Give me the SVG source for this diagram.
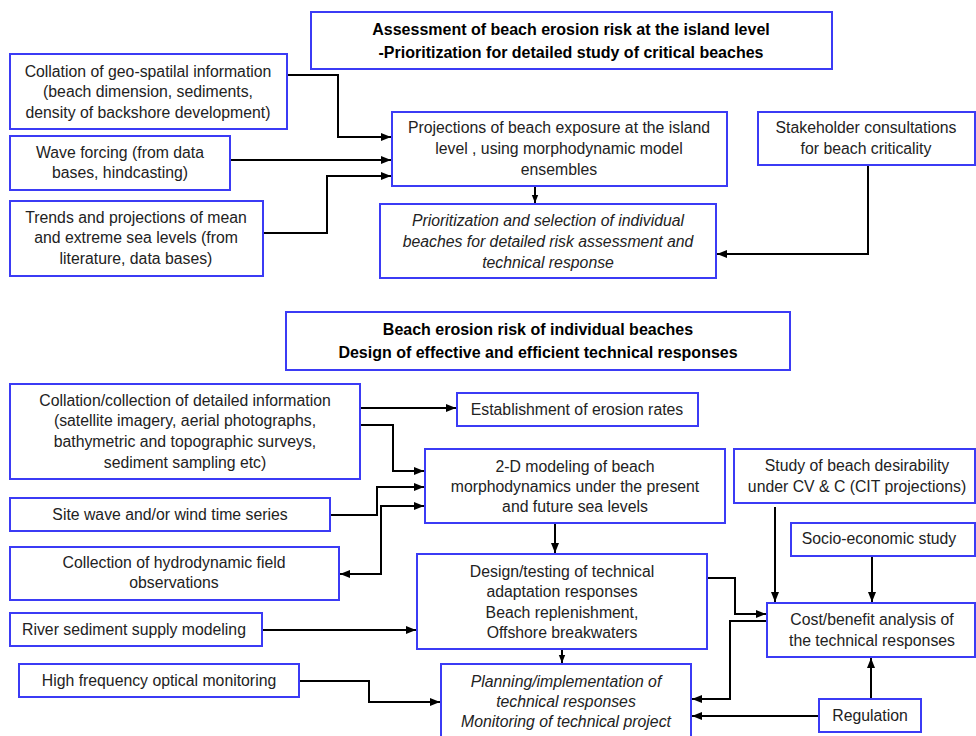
<svg xmlns="http://www.w3.org/2000/svg" width="976" height="736" viewBox="0 0 976 736">
<defs>
<style>
.box{fill:#fff;stroke:#3b3bf5;stroke-width:2}
.t{font-family:"Liberation Sans",Arial,sans-serif;font-size:15.8px;fill:#222;text-anchor:middle}
.b{font-weight:bold;fill:#000;font-size:16px}
.i{font-style:italic}
.c{fill:none;stroke:#000;stroke-width:2}
.a{marker-end:url(#ah)}
.s{marker-end:url(#sm)}
</style>
<marker id="ah" markerUnits="userSpaceOnUse" markerWidth="10" markerHeight="10" viewBox="0 0 10 10" refX="10" refY="5" orient="auto-start-reverse"><path d="M0,1 L10,5 L0,9 z" fill="#000"/></marker>
<marker id="sm" markerUnits="userSpaceOnUse" markerWidth="8" markerHeight="8" viewBox="0 0 10 10" refX="10" refY="5" orient="auto"><path d="M0,1 L10,5 L0,9 z" fill="#000"/></marker>
</defs>
<rect width="976" height="736" fill="#fff"/>

<g id="connectors">
<path class="c a" d="M287,75 H338 V137 H391"/>
<path class="c a" d="M230,160 H391"/>
<path class="c a" d="M263,233 H327 V176 H391"/>
<path class="c s" d="M535,186 V203"/>
<path class="c a" d="M868,165 V254 H717"/>
<path class="c a" d="M360,408 H456"/>
<path class="c a" d="M360,425 H393 V471 H424"/>
<path class="c a" d="M330,515 H377 V487 H424"/>
<path class="c a" style="marker-start:url(#ah)" d="M424,506 H381 V574 H340"/>
<path class="c a" d="M555,523 V553"/>
<path class="c a" d="M262,630 H416"/>
<path class="c s" d="M562,649 V663"/>
<path class="c a" d="M299,681 H369 V702 H440"/>
<path class="c a" d="M775,507 V602"/>
<path class="c a" d="M872,556 V602"/>
<path class="c a" d="M707,578 H735 V614 H766"/>
<path class="c a" d="M770,621 H730 V699 H692"/>
<path class="c a" d="M819,716 H692"/>
<path class="c a" d="M871,699 V658"/>
</g>

<g id="title1"><rect class="box" x="311" y="12" width="521" height="57"/>
<text class="t b" x="571" y="35">Assessment of beach erosion risk at the island level</text>
<text class="t b" x="571" y="58">-Prioritization for detailed study of critical beaches</text></g>

<g id="geo"><rect class="box" x="10" y="54" width="277" height="75"/>
<text class="t" x="148" y="77">Collation of geo-spatilal information</text>
<text class="t" x="148" y="97">(beach dimension, sediments,</text>
<text class="t" x="148" y="118">density of backshore development)</text></g>

<g id="wave"><rect class="box" x="10" y="136" width="220" height="54"/>
<text class="t" x="120" y="158">Wave forcing (from data</text>
<text class="t" x="120" y="178">bases, hindcasting)</text></g>

<g id="trends"><rect class="box" x="10" y="201" width="253" height="75"/>
<text class="t" x="136" y="223">Trends and projections of mean</text>
<text class="t" x="136" y="243">and extreme sea levels (from</text>
<text class="t" x="136" y="264">literature, data bases)</text></g>

<g id="projections"><rect class="box" x="392" y="112" width="335" height="74"/>
<text class="t" x="559" y="133">Projections of beach exposure at the island</text>
<text class="t" x="559" y="154">level , using morphodynamic model</text>
<text class="t" x="559" y="175">ensembles</text></g>

<g id="prioritization"><rect class="box" x="380" y="204" width="336" height="74"/>
<text class="t i" x="548" y="226">Prioritization and selection of individual</text>
<text class="t i" x="548" y="247">beaches for detailed risk assessment and</text>
<text class="t i" x="548" y="268">technical response</text></g>

<g id="stakeholder"><rect class="box" x="758" y="112" width="217" height="53"/>
<text class="t" x="866" y="133">Stakeholder consultations</text>
<text class="t" x="866" y="154">for beach criticality</text></g>

<g id="title2"><rect class="box" x="286" y="312" width="504" height="58"/>
<text class="t b" x="538" y="335">Beach erosion risk of individual beaches</text>
<text class="t b" x="538" y="358">Design of effective and efficient technical responses</text></g>

<g id="collation"><rect class="box" x="10" y="384" width="350" height="95"/>
<text class="t" x="185" y="406">Collation/collection of detailed information</text>
<text class="t" x="185" y="426">(satellite imagery, aerial photographs,</text>
<text class="t" x="185" y="447">bathymetric and topographic surveys,</text>
<text class="t" x="185" y="468">sediment sampling etc)</text></g>

<g id="establishment"><rect class="box" x="457" y="393" width="241" height="33"/>
<text class="t" x="577" y="415">Establishment of erosion rates</text></g>

<g id="modeling"><rect class="box" x="425" y="449" width="300" height="74"/>
<text class="t" x="575" y="472">2-D modeling of beach</text>
<text class="t" x="575" y="492">morphodynamics under the present</text>
<text class="t" x="575" y="512">and future sea levels</text></g>

<g id="desirability"><rect class="box" x="734" y="449" width="241" height="54"/>
<text class="t" x="857" y="471">Study of beach desirability</text>
<text class="t" x="857" y="492">under CV &amp; C (CIT projections)</text></g>

<g id="sitewave"><rect class="box" x="10" y="498" width="320" height="33"/>
<text class="t" x="170" y="520">Site wave and/or wind time series</text></g>

<g id="socio"><rect class="box" x="791" y="523" width="184" height="33"/>
<text class="t" x="879" y="544">Socio-economic study</text></g>

<g id="hydro"><rect class="box" x="10" y="547" width="329" height="53"/>
<text class="t" x="174" y="568">Collection of hydrodynamic field</text>
<text class="t" x="174" y="588">observations</text></g>

<g id="design"><rect class="box" x="417" y="554" width="290" height="95"/>
<text class="t" x="562" y="577">Design/testing of technical</text>
<text class="t" x="562" y="597">adaptation responses</text>
<text class="t" x="562" y="618">Beach replenishment,</text>
<text class="t" x="562" y="638">Offshore breakwaters</text></g>

<g id="costbenefit"><rect class="box" x="767" y="603" width="208" height="54"/>
<text class="t" x="872" y="625">Cost/benefit analysis of</text>
<text class="t" x="872" y="646">the technical responses</text></g>

<g id="river"><rect class="box" x="10" y="613" width="252" height="33"/>
<text class="t" x="134" y="635">River sediment supply modeling</text></g>

<g id="optical"><rect class="box" x="19" y="664" width="280" height="33"/>
<text class="t" x="159" y="686">High frequency optical monitoring</text></g>

<g id="planning"><rect class="box" x="441" y="664" width="250" height="82"/>
<text class="t i" x="566" y="687">Planning/implementation of</text>
<text class="t i" x="566" y="707">technical responses</text>
<text class="t i" x="566" y="727">Monitoring of technical project</text></g>

<g id="regulation"><rect class="box" x="819" y="699" width="102" height="33"/>
<text class="t" x="870" y="721">Regulation</text></g>
</svg>
